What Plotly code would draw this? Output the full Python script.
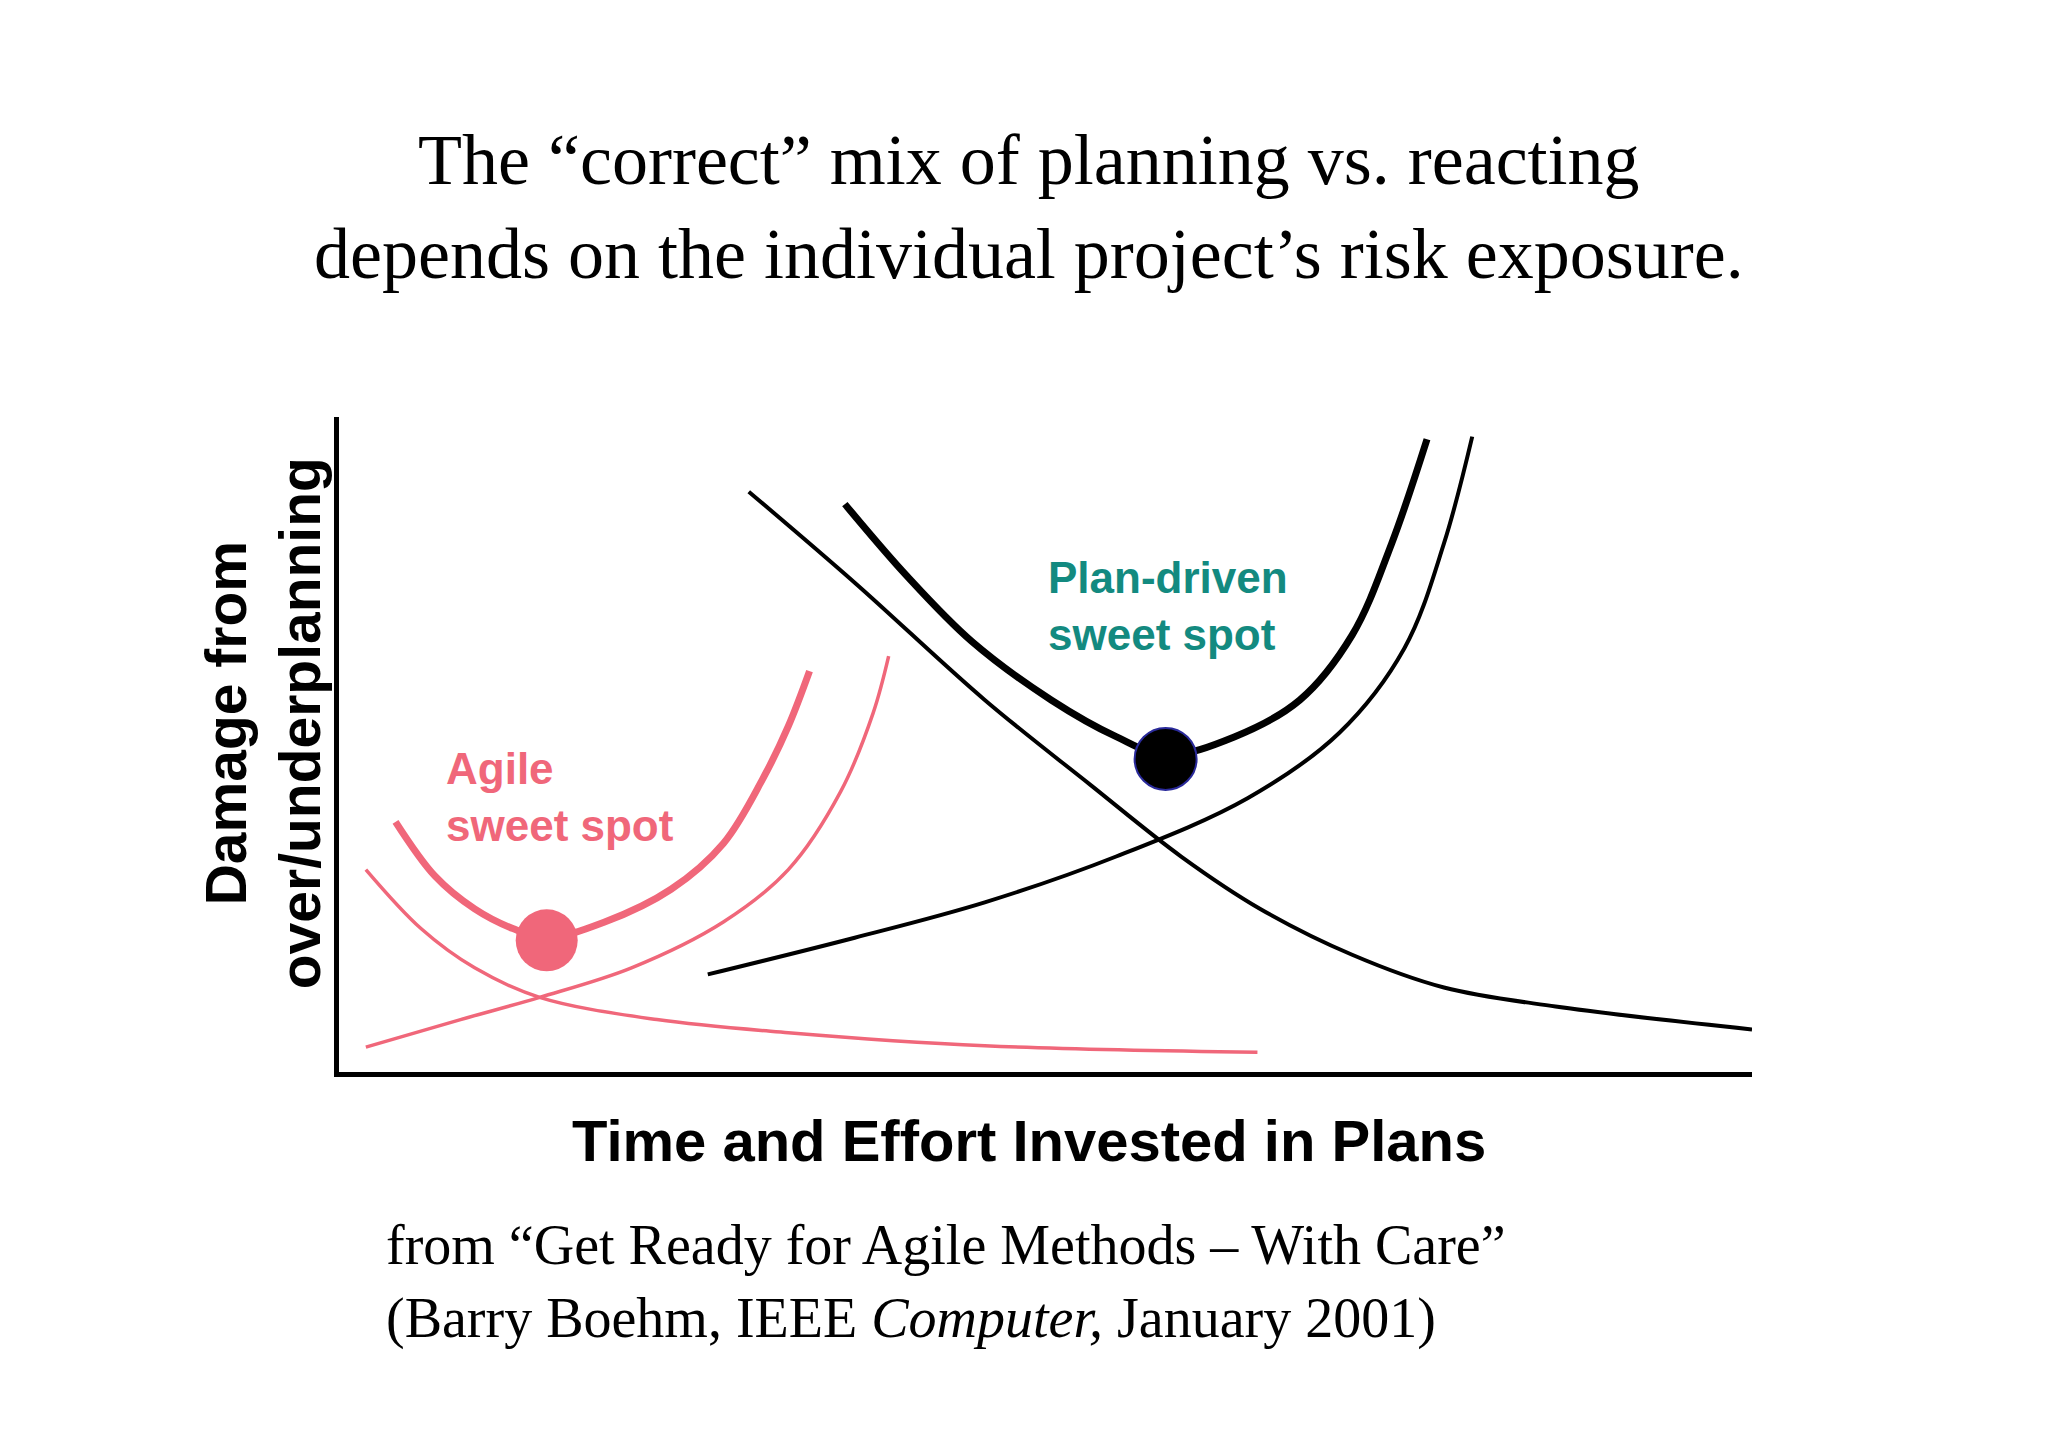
import plotly.graph_objects as go

# Curves (data units: x 0..100 along plans axis, y 0..100 damage)
plan_desc_x = [29.0, 36.5, 45.7, 53.2, 59.6, 65.2, 71.7, 78.2, 86.1, 100.0]
plan_desc_y = [88.6, 74.7, 56.8, 43.8, 32.9, 24.9, 17.9, 12.9, 10.0, 6.5]
plan_asc_x = [26.1, 36.5, 45.7, 55.0, 64.3, 70.8, 75.4, 78.2, 80.2]
plan_asc_y = [14.9, 20.5, 25.9, 32.9, 41.8, 51.8, 64.7, 80.7, 97.0]
plan_tot_x = [35.8, 40.2, 44.8, 50.4, 55.0, 58.5, 63.4, 68.0, 71.7, 74.5, 77.0]
plan_tot_y = [86.7, 75.7, 65.7, 56.8, 51.2, 48.4, 51.2, 56.8, 66.7, 80.7, 96.6]
agile_desc_x = [1.9, 5.8, 9.6, 14.2, 22.5, 31.8, 45.7, 65.0]
agile_desc_y = [30.9, 21.9, 15.9, 11.4, 8.0, 6.0, 4.0, 3.0]
agile_asc_x = [1.9, 8.6, 14.2, 20.7, 27.2, 31.8, 35.5, 37.8, 38.9]
agile_asc_y = [3.8, 8.0, 11.4, 15.9, 22.9, 30.9, 42.8, 54.8, 63.5]
agile_tot_x = [4.0, 6.8, 9.6, 12.3, 14.7, 18.8, 23.5, 27.2, 30.0, 31.8, 33.3]
agile_tot_y = [38.2, 29.9, 24.9, 21.9, 20.5, 22.9, 27.9, 34.9, 44.8, 52.8, 61.2]
agile_spot = (14.7, 20.1)
plan_spot = (58.5, 47.8)

PINK = "#f0677a"
TEAL = "#138a80"

fig = go.Figure()
def line(x, y, color, w):
    fig.add_trace(go.Scatter(x=x, y=y, mode="lines", line=dict(color=color, width=w, shape="spline", smoothing=1.0),
                             hoverinfo="skip", showlegend=False))
line(plan_desc_x, plan_desc_y, "black", 4)
line(plan_asc_x, plan_asc_y, "black", 4)
line(plan_tot_x, plan_tot_y, "black", 7)
line(agile_desc_x, agile_desc_y, PINK, 3.5)
line(agile_asc_x, agile_asc_y, PINK, 3.5)
line(agile_tot_x, agile_tot_y, PINK, 7)
fig.add_trace(go.Scatter(x=[agile_spot[0]], y=[agile_spot[1]], mode="markers",
                         marker=dict(color=PINK, size=62, line=dict(width=0)), showlegend=False, hoverinfo="skip"))
fig.add_trace(go.Scatter(x=[plan_spot[0]], y=[plan_spot[1]], mode="markers",
                         marker=dict(color="black", size=62, line=dict(width=2, color="#2a2a9a")), showlegend=False, hoverinfo="skip"))

serif = "Liberation Serif, Times New Roman, serif"
sans = "Liberation Sans, Arial, sans-serif"
ann = [
    dict(x=48.8, y=132.1, text="The “correct” mix of planning vs. reacting<br>depends on the individual project’s risk exposure.",
         font=dict(family=serif, size=72, color="black"), xanchor="center", yanchor="middle"),
    dict(x=-5.4, y=53.2, text="<b>Damage from<br>over/underplanning</b>", textangle=-90,
         font=dict(family=sans, size=57, color="black"), xanchor="center", yanchor="middle"),
    dict(x=48.8, y=-10.4, text="<b>Time and Effort Invested in Plans</b>",
         font=dict(family=sans, size=58, color="black"), xanchor="center", yanchor="middle"),
    dict(x=3.2, y=-32.1, text="from “Get Ready for Agile Methods – With Care”<br>(Barry Boehm, IEEE <i>Computer,</i> January 2001)",
         font=dict(family=serif, size=56, color="black"), xanchor="left", yanchor="middle", align="left"),
    dict(x=7.4, y=42.0, text="<b>Agile<br>sweet spot</b>", font=dict(family=sans, size=44, color=PINK),
         xanchor="left", yanchor="middle", align="left"),
    dict(x=50.0, y=71.1, text="<b>Plan-driven<br>sweet spot</b>", font=dict(family=sans, size=44, color=TEAL),
         xanchor="left", yanchor="middle", align="left"),
]
for a in ann:
    a.update(x=a["x"] / 100, y=a["y"] / 100, xref="paper", yref="paper", showarrow=False)

fig.update_layout(
    width=2048, height=1447, paper_bgcolor="white", plot_bgcolor="white",
    margin=dict(l=331, r=304, t=409, b=383), annotations=ann,
    xaxis=dict(range=[0, 100], showgrid=False, zeroline=False, showticklabels=False, ticks="",
               showline=True, linecolor="black", linewidth=5),
    yaxis=dict(range=[0, 100], showgrid=False, zeroline=False, showticklabels=False, ticks="",
               showline=True, linecolor="black", linewidth=5),
)
fig.write_html("out.html")
